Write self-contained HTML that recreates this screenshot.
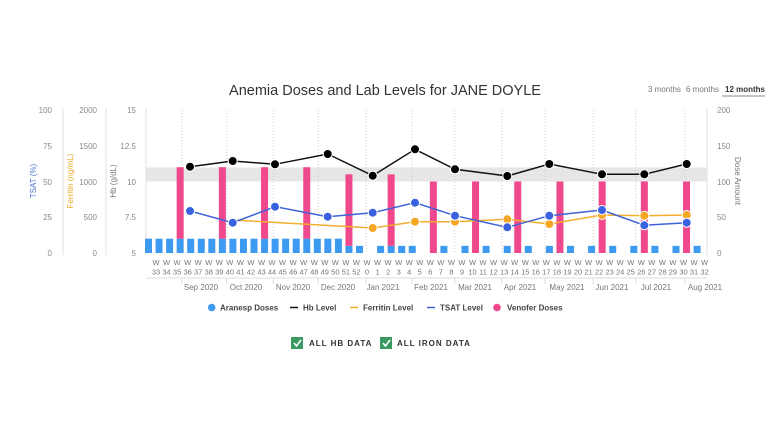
<!DOCTYPE html>
<html><head><meta charset="utf-8"><style>
html,body{margin:0;padding:0;background:#fff;}
svg{display:block;font-family:"Liberation Sans",sans-serif;}
</style></head><body>
<svg width="777" height="437" viewBox="0 0 777 437" xmlns="http://www.w3.org/2000/svg">
<text x="385" y="95" text-anchor="middle" font-size="14.5" fill="#333">Anemia Doses and Lab Levels for JANE DOYLE</text>
<text x="648" y="92" font-size="8" fill="#777">3 months</text>
<text x="686" y="92" font-size="8" fill="#777">6 months</text>
<text x="725" y="92" font-size="8" fill="#333" font-weight="bold">12 months</text>
<line x1="722" y1="96" x2="765" y2="96" stroke="#888" stroke-width="1"/>

<!-- axes lines -->
<g stroke="#e2e2e2" stroke-width="1">
<line x1="63" y1="108" x2="63" y2="255"/>
<line x1="106" y1="108" x2="106" y2="255"/>
<line x1="146" y1="108" x2="146" y2="255"/>
<line x1="707" y1="108" x2="707" y2="255"/>
</g>
<g font-size="8" fill="#888">
<g text-anchor="end">
<text x="52" y="113">100</text><text x="52" y="149">75</text><text x="52" y="185">50</text><text x="52" y="220">25</text><text x="52" y="256">0</text>
<text x="97" y="113">2000</text><text x="97" y="149">1500</text><text x="97" y="185">1000</text><text x="97" y="220">500</text><text x="97" y="256">0</text>
<text x="136" y="113">15</text><text x="136" y="149">12.5</text><text x="136" y="185">10</text><text x="136" y="220">7.5</text><text x="136" y="256">5</text>
</g>
<text x="717" y="113">200</text><text x="717" y="149">150</text><text x="717" y="185">100</text><text x="717" y="220">50</text><text x="717" y="256">0</text>
</g>
<text transform="translate(36,181) rotate(-90)" text-anchor="middle" font-size="8" fill="#4a72d8">TSAT (%)</text>
<text transform="translate(73,181) rotate(-90)" text-anchor="middle" font-size="8" fill="#e8a92a">Ferritin (ng/mL)</text>
<text transform="translate(116,181) rotate(-90)" text-anchor="middle" font-size="8" fill="#777">Hb (g/dL)</text>
<text transform="translate(735,181) rotate(90)" text-anchor="middle" font-size="8" fill="#777">Dose Amount</text>

<!-- band -->
<rect x="146" y="167.5" width="561" height="14" fill="#e6e6e6"/>

<!-- month dotted lines -->
<g stroke="#ccc" stroke-width="1" stroke-dasharray="1,2">
<line x1="181.7" y1="110" x2="181.7" y2="253"/><line x1="226.7" y1="110" x2="226.7" y2="253"/>
<line x1="273.3" y1="110" x2="273.3" y2="253"/><line x1="318.3" y1="110" x2="318.3" y2="253"/>
<line x1="366" y1="110" x2="366" y2="253"/><line x1="412" y1="110" x2="412" y2="253"/>
<line x1="454.7" y1="110" x2="454.7" y2="253"/><line x1="501.7" y1="110" x2="501.7" y2="253"/>
<line x1="545" y1="110" x2="545" y2="253"/><line x1="593.3" y1="110" x2="593.3" y2="253"/>
<line x1="635.7" y1="110" x2="635.7" y2="253"/><line x1="685" y1="110" x2="685" y2="253"/>
</g>

<g id="bars"></g>
<g id="weeks" font-size="7.5" fill="#777" text-anchor="middle"></g>

<line x1="146" y1="278" x2="707" y2="278" stroke="#ddd"/>
<g stroke="#ddd">
<line x1="181.7" y1="278" x2="181.7" y2="284"/><line x1="226.7" y1="278" x2="226.7" y2="284"/>
<line x1="273.3" y1="278" x2="273.3" y2="284"/><line x1="318.3" y1="278" x2="318.3" y2="284"/>
<line x1="366" y1="278" x2="366" y2="284"/><line x1="412" y1="278" x2="412" y2="284"/>
<line x1="454.7" y1="278" x2="454.7" y2="284"/><line x1="501.7" y1="278" x2="501.7" y2="284"/>
<line x1="545" y1="278" x2="545" y2="284"/><line x1="593.3" y1="278" x2="593.3" y2="284"/>
<line x1="635.7" y1="278" x2="635.7" y2="284"/><line x1="685" y1="278" x2="685" y2="284"/>
</g>
<g font-size="8" fill="#777" text-anchor="middle">
<text x="201" y="290">Sep 2020</text><text x="246" y="290">Oct 2020</text><text x="293" y="290">Nov 2020</text>
<text x="338" y="290">Dec 2020</text><text x="383" y="290">Jan 2021</text><text x="431" y="290">Feb 2021</text>
<text x="475" y="290">Mar 2021</text><text x="520" y="290">Apr 2021</text><text x="567" y="290">May 2021</text>
<text x="612" y="290">Jun 2021</text><text x="656" y="290">Jul 2021</text><text x="705" y="290">Aug 2021</text>
</g>

<!-- ferritin -->
<polyline fill="none" stroke="#f2ae2e" stroke-width="1.5" points="232.7,220 372.7,228 415,221.7 455,221.7 507.3,219.3 549.3,224 602,215 644.3,215.7 686.7,215"/>
<g fill="#f5a623" stroke="#fff" stroke-width="1">
<circle cx="372.7" cy="228" r="4.5"/><circle cx="415" cy="221.7" r="4.5"/><circle cx="455" cy="221.7" r="4.5"/><circle cx="507.3" cy="219.3" r="4.5"/><circle cx="549.3" cy="224" r="4.5"/><circle cx="602" cy="215" r="4.5"/><circle cx="644.3" cy="215.7" r="4.5"/><circle cx="686.7" cy="215" r="4.5"/>
</g>
<!-- tsat -->
<polyline fill="none" stroke="#3f63d8" stroke-width="1.5" points="190,211 232.7,222.7 275,206.7 327.7,216.7 372.7,212.7 415,202.7 455,215.7 507.3,227.3 549.3,215.7 602,210 644.3,225.3 686.7,222.7"/>
<g fill="#3a62e0" stroke="#fff" stroke-width="1">
<circle cx="190" cy="211" r="4.5"/><circle cx="232.7" cy="222.7" r="4.5"/><circle cx="275" cy="206.7" r="4.5"/><circle cx="327.7" cy="216.7" r="4.5"/><circle cx="372.7" cy="212.7" r="4.5"/><circle cx="415" cy="202.7" r="4.5"/><circle cx="455" cy="215.7" r="4.5"/><circle cx="507.3" cy="227.3" r="4.5"/><circle cx="549.3" cy="215.7" r="4.5"/><circle cx="602" cy="210" r="4.5"/><circle cx="644.3" cy="225.3" r="4.5"/><circle cx="686.7" cy="222.7" r="4.5"/>
</g>
<!-- hb -->
<polyline fill="none" stroke="#111" stroke-width="1.5" points="190,166.7 232.7,161 275,164.3 327.7,154 372.7,175.7 415,149.3 455,169.3 507.3,176 549.3,164 602,174.3 644.3,174.3 686.7,164"/>
<g fill="#000" stroke="#fff" stroke-width="1">
<circle cx="190" cy="166.7" r="4.5"/><circle cx="232.7" cy="161" r="4.5"/><circle cx="275" cy="164.3" r="4.5"/><circle cx="327.7" cy="154" r="4.5"/><circle cx="372.7" cy="175.7" r="4.5"/><circle cx="415" cy="149.3" r="4.5"/><circle cx="455" cy="169.3" r="4.5"/><circle cx="507.3" cy="176" r="4.5"/><circle cx="549.3" cy="164" r="4.5"/><circle cx="602" cy="174.3" r="4.5"/><circle cx="644.3" cy="174.3" r="4.5"/><circle cx="686.7" cy="164" r="4.5"/>
</g>

<!-- legend -->
<g font-size="8" fill="#444" font-weight="bold">
<circle cx="211.7" cy="307.5" r="3.8" fill="#3c9af0"/><text x="220" y="310.5">Aranesp Doses</text>
<line x1="290" y1="307.5" x2="298" y2="307.5" stroke="#111" stroke-width="1.5"/><text x="303" y="310.5">Hb Level</text>
<line x1="350" y1="307.5" x2="358" y2="307.5" stroke="#f2ae2e" stroke-width="1.5"/><text x="363" y="310.5">Ferritin Level</text>
<line x1="427" y1="307.5" x2="435" y2="307.5" stroke="#3f63d8" stroke-width="1.5"/><text x="440" y="310.5">TSAT Level</text>
<circle cx="497" cy="307.5" r="3.8" fill="#f0488c"/><text x="507" y="310.5">Venofer Doses</text>
</g>
<g font-size="8" fill="#333" font-weight="bold" letter-spacing="1">
<rect x="291" y="337" width="12" height="12" fill="#3a9a62"/>
<path d="M294 343 l2.5 3 l4.5 -6" stroke="#fff" stroke-width="1.6" fill="none"/>
<text x="309" y="346">ALL HB DATA</text>
<rect x="380" y="337" width="12" height="12" fill="#3a9a62"/>
<path d="M383 343 l2.5 3 l4.5 -6" stroke="#fff" stroke-width="1.6" fill="none"/>
<text x="397" y="346">ALL IRON DATA</text>
</g>
</svg>
<script>
(function(){
var ns="http://www.w3.org/2000/svg";
var bars=document.getElementById("bars");
function rect(x,y,w,h,c){var r=document.createElementNS(ns,"rect");r.setAttribute("x",x);r.setAttribute("y",y);r.setAttribute("width",w);r.setAttribute("height",h);r.setAttribute("fill",c);bars.appendChild(r);}
function cx(k){return 148.5+10.55*k;}
var blue={};
for(var k=0;k<=18;k++)blue[k]=20;
[19,20,22,23,24,25].forEach(function(k){blue[k]=10;});
for(var k=28;k<=52;k+=2)blue[k]=10;
for(var k in blue){rect(cx(+k)-3.5,253-blue[k]*0.715,7,blue[k]*0.715,"#3c9af0");}
for(var k=3;k<=51;k+=4){var base=blue[k]||0;var top=base+100;rect(cx(k)-3.5,253-top*0.715,7,100*0.715,"#f0488c");}
var wk=document.getElementById("weeks");
var nums=[];for(var i=33;i<=52;i++)nums.push(i);nums.push(0);for(var i=1;i<=32;i++)nums.push(i);
nums.forEach(function(n,j){var x=156+10.55*j;
var t=document.createElementNS(ns,"text");t.setAttribute("x",x);t.setAttribute("y",265);t.textContent="W";wk.appendChild(t);
var t2=document.createElementNS(ns,"text");t2.setAttribute("x",x);t2.setAttribute("y",274.5);t2.textContent=n;wk.appendChild(t2);});
})();
</script>
</body></html>
